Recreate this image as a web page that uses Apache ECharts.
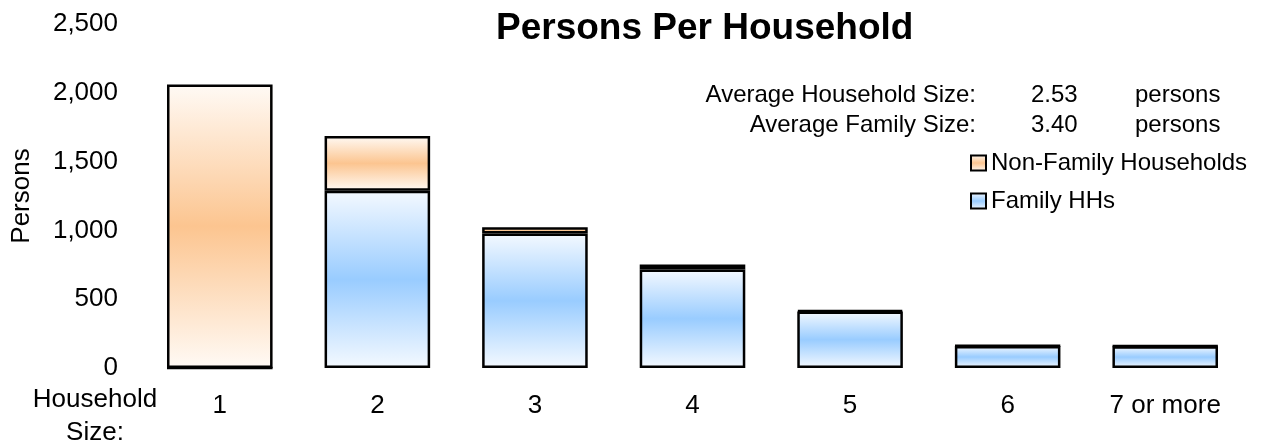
<!DOCTYPE html>
<html>
<head>
<meta charset="utf-8">
<script src="https://cdn.jsdelivr.net/npm/echarts@6/dist/echarts.min.js"></script>
<style>
html,body{margin:0;padding:0;background:#fff;}
#chart{width:1261px;height:445px;}
</style>
</head>
<body>
<div id="chart"></div>
<script>
var categories = ['1', '2', '3', '4', '5', '6', '7 or more'];
var familyHHs = [0, 1288, 977, 716, 411, 160, 158];
var nonFamilyHHs = [2060, 398, 46, 36, 8, 2, 2];
var yTicks = [0, 500, 1000, 1500, 2000, 2500];
var statLabels = ['Average Household Size:', 'Average Family Size:'];
var statValues = ['2.53', '3.40'];
var statUnits = ['persons', 'persons'];

var FONT = '"Liberation Sans", Arial, sans-serif';

function grad(edge, mid) {
  return new echarts.graphic.LinearGradient(0, 0, 0, 1, [
    {offset: 0, color: edge},
    {offset: 0.5, color: mid},
    {offset: 1, color: edge}
  ]);
}

var chart = echarts.init(document.getElementById('chart'), null, {renderer: 'canvas'});

var graphics = [];
statLabels.forEach(function (lab, i) {
  var y = 95 + i * 30;
  graphics.push({type: 'text', x: 976, y: y, style: {text: lab, fill: '#000', font: '24px ' + FONT, textAlign: 'right', textVerticalAlign: 'middle'}});
  graphics.push({type: 'text', x: 1031, y: y, style: {text: statValues[i], fill: '#000', font: '24px ' + FONT, textAlign: 'left', textVerticalAlign: 'middle'}});
  graphics.push({type: 'text', x: 1135, y: y, style: {text: statUnits[i], fill: '#000', font: '24px ' + FONT, textAlign: 'left', textVerticalAlign: 'middle'}});
});
graphics.push({type: 'text', x: 95, y: 416.5, style: {text: 'Household\nSize:', fill: '#000', font: '26px ' + FONT, lineHeight: 33, textAlign: 'center', textVerticalAlign: 'middle'}});

var option = {
  animation: false,
  backgroundColor: '#fff',
  textStyle: {fontFamily: FONT},
  title: {
    text: 'Persons Per Household',
    left: 496,
    top: 10,
    padding: 0,
    textStyle: {fontSize: 37, fontWeight: 'bold', color: '#000', fontFamily: FONT}
  },
  legend: {
    orient: 'vertical',
    left: 965,
    top: 146,
    itemGap: 14,
    itemWidth: 15,
    itemHeight: 15,
    icon: 'rect',
    data: ['Non-Family Households', 'Family HHs'],
    textStyle: {fontSize: 24, color: '#000', fontFamily: FONT},
    itemStyle: {borderColor: '#000', borderWidth: 2}
  },
  grid: {
    left: 141,
    right: 17,
    top: 24,
    bottom: 77,
    containLabel: false,
    outerBoundsMode: 'none'
  },
  xAxis: {
    type: 'category',
    data: categories,
    axisLine: {show: false},
    axisTick: {show: false},
    axisLabel: {fontSize: 26, color: '#000', margin: 25, fontFamily: FONT},
    splitLine: {show: false}
  },
  yAxis: {
    type: 'value',
    min: yTicks[0],
    max: yTicks[yTicks.length - 1],
    interval: yTicks[1] - yTicks[0],
    name: 'Persons',
    nameLocation: 'middle',
    nameGap: 106,
    nameRotate: 90,
    nameTextStyle: {fontSize: 26, color: '#000', fontFamily: FONT},
    axisLine: {show: false},
    axisTick: {show: false},
    splitLine: {show: false},
    axisLabel: {fontSize: 26, color: '#000', margin: 23, fontFamily: FONT}
  },
  graphic: graphics,
  series: [
    {
      name: 'Family HHs',
      type: 'bar',
      stack: 'hh',
      data: familyHHs,
      barCategoryGap: '33%',
      itemStyle: {color: grad('#f4f9ff', '#99ccff'), borderColor: '#000', borderWidth: 2.5}
    },
    {
      name: 'Non-Family Households',
      type: 'bar',
      stack: 'hh',
      data: nonFamilyHHs,
      barCategoryGap: '33%',
      itemStyle: {color: grad('#fffaf5', '#fcc590'), borderColor: '#000', borderWidth: 2.5}
    }
  ]
};
chart.setOption(option);
</script>
</body>
</html>
